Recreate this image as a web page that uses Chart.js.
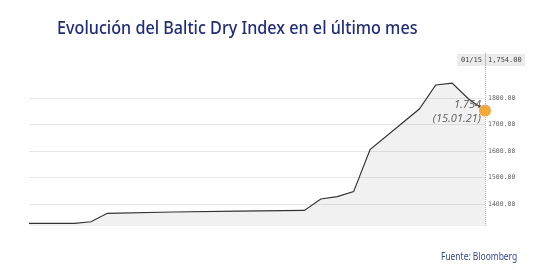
<!DOCTYPE html>
<html>
<head>
<meta charset="utf-8">
<script src="https://cdn.jsdelivr.net/npm/chart.js@4"></script>
<style>
  html, body { margin: 0; padding: 0; background: #fff; }
  #wrap { position: relative; width: 540px; height: 270px; overflow: hidden; }
  #title { position: absolute; left: 57px; top: 15px; font: 500 17.5px "Noto Sans", sans-serif; color: #1f2b80;
           white-space: nowrap; transform-origin: 0 0; }
  #source { position: absolute; left: 441px; top: 249px; font: 10px "Noto Sans", sans-serif; color: #34469c;
            white-space: nowrap; transform-origin: 0 0; }
  canvas { position: absolute; left: 0; top: 0; }
</style>
</head>
<body>
<div id="wrap">
  <canvas id="bdiChart" width="540" height="270"></canvas>
  <div id="title">Evolución del Baltic Dry Index en el último mes</div>
  <div id="source">Fuente: Bloomberg</div>
</div>
<script>
// sessions (trading-day index) and BDI close
const sessions = [0, 3, 4, 5, 9, 13, 17, 18, 19, 20, 21, 24, 25, 26, 27, 28];
const bdi      = [1327, 1327, 1333, 1365, 1370, 1373, 1376, 1419, 1428, 1447, 1606, 1759, 1850, 1857, 1797, 1754];
const yTicks   = [1400, 1500, 1600, 1700, 1800];
const lastLabel = '1.754';
const lastDate  = '(15.01.21)';
const headDate  = '01/15';
const headValue = '1,754.00';

// squeeze html text to the widths seen in the picture
function fitWidth(id, w){
  const el = document.getElementById(id);
  el.style.transform = 'scaleX(' + (w / el.offsetWidth) + ')';
}
fitWidth('title', 361);
fitWidth('source', 76);

const lastIdx = bdi.length - 1;

const overlay = {
  id: 'overlay',
  afterDatasetsDraw(chart){
    const c = chart.ctx;
    const area = chart.chartArea;
    const p = chart.getDatasetMeta(0).data[lastIdx];

    // dotted crosshair
    c.save();
    c.strokeStyle = '#b5b5b5';
    c.lineWidth = 1;
    c.setLineDash([1, 1]);
    c.beginPath();
    c.moveTo(Math.round(p.x) + 0.5, area.top);
    c.lineTo(Math.round(p.x) + 0.5, area.bottom);
    c.stroke();
    c.restore();

    // header box
    c.save();
    c.fillStyle = '#ececec';
    c.fillRect(p.x - 28, area.top + 1, 68, 12);
    c.fillStyle = '#bbb';
    c.fillRect(p.x, area.top + 1, 1, 12);
    c.font = '7px "DejaVu Sans Mono"';
    c.fillStyle = '#444';
    c.textBaseline = 'middle';
    c.textAlign = 'right';
    c.fillText(headDate, p.x - 3, area.top + 7.5);
    c.textAlign = 'left';
    c.fillText(headValue, p.x + 3, area.top + 7.5);
    c.restore();

    // last value annotation
    c.save();
    c.font = 'italic 11px "Open Sans"';
    c.fillStyle = '#5a5a5a';
    c.textAlign = 'right';
    c.textBaseline = 'alphabetic';
    c.fillText(lastLabel, p.x - 4, p.y - 2);
    c.fillText(lastDate, p.x - 4, p.y + 12);
    c.restore();
  }
};

const ctx = document.getElementById('bdiChart').getContext('2d');
const chart = new Chart(ctx, {
  type: 'line',
  data: {
    datasets: [{
      data: sessions.map((s, i) => ({ x: s, y: bdi[i] })),
      borderColor: '#333',
      borderWidth: 1.2,
      backgroundColor: 'rgba(0,0,0,0.055)',
      fill: 'start',
      tension: 0,
      clip: { left: 0, top: false, right: false, bottom: 0 },
      pointRadius: (c) => c.dataIndex === lastIdx ? 6 : 0,
      pointHoverRadius: 0,
      pointBackgroundColor: '#f4a83a',
      pointBorderWidth: 0
    }]
  },
  options: {
    responsive: false,
    animation: false,
    devicePixelRatio: 1,
    layout: { padding: { left: 29, top: 53, bottom: 44, right: 0 } },
    plugins: { legend: { display: false }, tooltip: { enabled: false } },
    scales: {
      x: { type: 'linear', min: 0.23, max: 28, display: false },
      y: {
        position: 'right',
        min: 1317, max: 1971,
        afterBuildTicks: (s) => { s.ticks = yTicks.map(v => ({ value: v })); },
        afterFit: (s) => { s.width = 55; },
        border: { display: false },
        grid: { color: '#e8e8e8', drawTicks: false },
        ticks: {
          padding: 3,
          color: '#666',
          font: { family: 'DejaVu Sans Mono', size: 6.5 },
          callback: (v) => v.toFixed(2)
        }
      }
    }
  },
  plugins: [overlay]
});
</script>
</body>
</html>
